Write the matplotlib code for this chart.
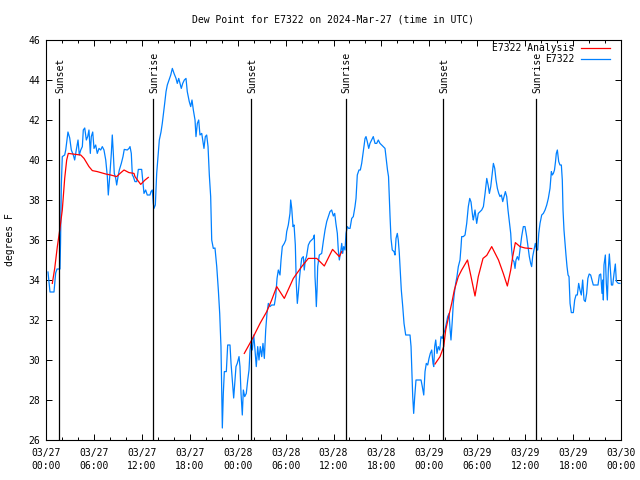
import numpy as np
import matplotlib
matplotlib.use("Agg")
import matplotlib.pyplot as plt
from matplotlib.ticker import MultipleLocator, FixedLocator

plt.rcParams['font.family'] = ['DejaVu Sans Mono']
plt.rcParams['font.size'] = 7

title = "Dew Point for E7322 on 2024-Mar-27 (time in UTC)"
ylabel = "degrees F"

# hours since 03/27 00:00 UTC
obs_hours = [0.25, 0.50, 1.00, 1.21, 1.38, 1.75, 1.82, 1.92, 2.04, 2.34, 2.47, 2.75, 2.97, 3.17, 3.42, 3.59,
             3.79, 4.01, 4.17, 4.35, 4.55, 4.67, 4.85, 5.05, 5.22, 5.38, 5.55, 5.67, 5.85, 6.01, 6.22, 6.42,
             6.64, 6.85, 7.05, 7.26, 7.48, 7.68, 7.80, 7.98, 8.18, 8.30, 8.43, 8.55, 8.73, 8.85, 9.02, 9.18,
             9.43, 9.64, 9.80, 10.18, 10.39, 10.52, 10.68, 10.81, 10.93, 11.14, 11.36, 11.56, 11.98, 12.11,
             12.27, 12.48, 12.68, 13.02, 13.15, 13.31, 13.44, 13.52, 13.69, 13.86, 14.02, 14.19, 14.40, 14.56,
             14.69, 14.86, 15.03, 15.19, 15.40, 15.62, 15.82, 16.03, 16.28, 16.44, 16.62, 16.78, 16.94, 17.12,
             17.32, 17.53, 17.69, 17.94, 18.12, 18.28, 18.45, 18.66, 18.78, 18.95, 19.12, 19.28, 19.50, 19.62,
             19.78, 19.95, 20.12, 20.29, 20.45, 20.62, 20.75, 20.95, 21.16, 21.38, 21.58, 21.75, 21.91, 22.00,
             22.08, 22.20, 22.33, 22.58, 22.75, 23.04, 23.17, 23.33, 23.50, 23.67, 23.79, 23.95, 24.17, 24.29,
             24.42, 24.58, 24.71, 24.88, 25.08, 25.26, 25.42, 25.55, 25.67, 25.83, 26.01, 26.17, 26.33, 26.51,
             26.67, 26.83, 27.01, 27.17, 27.34, 27.51, 27.67, 27.84, 28.05, 28.26, 28.59, 28.76, 28.93, 29.09,
             29.30, 29.43, 29.59, 29.84, 30.02, 30.14, 30.34, 30.55, 30.64, 30.77, 30.93, 31.06, 31.22, 31.34,
             31.47, 31.59, 31.72, 31.84, 32.02, 32.22, 32.34, 32.47, 32.62, 32.85, 33.06, 33.27, 33.47, 33.60,
             33.68, 33.77, 33.85, 33.94, 34.02, 34.22, 34.52, 34.72, 34.94, 35.15, 35.35, 35.56, 35.77, 35.98,
             36.15, 36.31, 36.48, 36.60, 36.73, 36.90, 37.03, 37.15, 37.28, 37.44, 37.57, 37.73, 37.90, 38.07,
             38.28, 38.48, 38.69, 38.82, 38.98, 39.19, 39.36, 39.53, 39.73, 39.95, 40.07, 40.23, 40.41, 40.57,
             40.78, 40.98, 41.20, 41.41, 41.61, 41.82, 42.03, 42.45, 42.61, 42.76, 42.89, 42.99, 43.08, 43.20,
             43.36, 43.58, 43.70, 43.83, 43.99, 44.11, 44.24, 44.37, 44.49, 44.67, 44.83, 45.04, 45.58, 45.71,
             45.79, 45.92, 46.04, 46.17, 46.33, 46.96, 47.12, 47.30, 47.46, 47.62, 47.80, 47.96, 48.12, 48.30,
             48.46, 48.55, 48.67, 48.80, 48.96, 49.12, 49.30, 49.46, 49.62, 49.80, 49.96, 50.13, 50.30, 50.47,
             50.59, 50.71, 50.88, 51.00, 51.13, 51.30, 51.46, 51.63, 51.84, 51.97, 52.05, 52.26, 52.47, 52.68,
             52.88, 53.06, 53.22, 53.43, 53.51, 53.72, 53.93, 54.13, 54.35, 54.56, 54.77, 54.98, 55.19, 55.36,
             55.52, 55.69, 55.85, 56.02, 56.19, 56.35, 56.52, 56.69, 56.85, 57.02, 57.19, 57.35, 57.52, 57.69,
             57.85, 58.02, 58.19, 58.31, 58.44, 58.60, 58.73, 58.85, 59.02, 59.19, 59.35, 59.56, 59.77, 59.98,
             60.19, 60.35, 60.52, 60.69, 60.81, 60.94, 61.11, 61.27, 61.45, 61.57, 61.70, 61.86, 62.07, 62.28,
             62.49, 62.70, 62.90, 63.11, 63.28, 63.40, 63.53, 63.67, 63.80, 63.90, 64.03, 64.20, 64.36, 64.53,
             64.65, 64.74, 64.86, 64.99, 65.11, 65.24, 65.37, 65.49, 65.62, 65.78, 66.03, 66.20, 66.37, 66.53,
             66.70, 66.86, 67.03, 67.20, 67.37, 67.53, 67.70, 67.85, 68.02, 68.20, 68.37, 68.53, 68.87, 69.12,
             69.29, 69.46, 69.62, 69.71, 69.79, 69.87, 70.04, 70.16, 70.29, 70.41, 70.54, 70.66, 70.80, 70.96,
             71.13, 71.29, 71.42, 71.67, 71.87]
obs_vals = [34.4, 33.4, 33.4, 34.35, 34.55, 34.55, 35.85, 38.75, 40.17, 40.25, 40.5, 41.4, 41.1, 40.5, 40.25, 40.0,
            40.5, 41.0, 40.25, 40.5, 40.67, 41.5, 41.6, 41.0, 41.17, 41.5, 40.33, 41.17, 41.4, 40.58, 40.75, 40.33,
            40.58, 40.5, 40.67, 40.5, 40.0, 39.17, 38.25, 39.17, 40.33, 41.25, 40.33, 39.33, 39.08, 38.75, 39.17, 39.5,
            39.83, 40.17, 40.53, 40.5, 40.58, 40.67, 40.33, 39.25, 39.17, 38.92, 38.92, 39.53, 39.53, 39.0,
            38.33, 38.5, 38.25, 38.25, 38.42, 38.5, 37.83, 37.58, 37.75, 39.33, 40.17, 41.0, 41.4, 41.83,
            42.25, 42.83, 43.42, 43.75, 44.0, 44.25, 44.58, 44.33, 44.08, 43.83, 44.08, 43.83, 43.58, 43.83,
            44.0, 44.08, 43.42, 42.92, 42.67, 43.0, 42.5, 42.0, 41.17, 41.83, 42.0, 41.25, 41.33, 41.0,
            40.58, 41.17, 41.25, 40.67, 39.25, 38.17, 36.0, 35.58, 35.6, 34.67, 33.5, 32.33, 30.67, 28.67,
            26.6, 28.3, 29.42, 29.42, 30.75, 30.75, 29.83, 29.0, 28.1, 29.0, 29.67, 29.83, 30.17, 29.67,
            28.33, 27.25, 28.5, 28.17, 28.33, 29.0, 29.5, 30.5, 30.83, 30.5, 31.25, 30.5, 29.67, 30.67,
            30.0, 30.67, 30.17, 30.83, 30.08, 31.5, 32.33, 32.83, 32.67, 32.75, 32.75, 33.17, 34.08, 34.5,
            34.25, 35.0, 35.67, 35.83, 36.0, 36.42, 36.75, 37.33, 38.0, 37.58, 36.67, 36.75, 35.75, 33.83,
            32.83, 33.33, 34.0, 34.5, 35.08, 35.17, 34.5, 35.0, 35.17, 35.75, 35.92, 36.0, 36.08, 36.25,
            34.17, 33.5, 32.67, 33.5, 34.67, 35.25, 35.33, 35.92, 36.5, 36.92, 37.17, 37.42, 37.5, 37.2,
            37.33, 36.8, 36.33, 35.5, 35.0, 35.42, 35.83, 35.33, 35.67, 35.5, 36.33, 36.67, 36.58, 36.58,
            37.08, 37.17, 37.67, 38.08, 39.25, 39.5, 39.5, 39.83, 40.42, 41.08, 41.17, 40.92, 40.58, 40.83,
            41.0, 41.17, 40.83, 40.83, 41.0, 40.83, 40.75, 40.58, 40.0, 39.5, 39.17, 38.08, 37.17, 36.08,
            35.5, 35.42, 35.25, 36.08, 36.33, 36.0, 35.33, 34.33, 33.5, 32.67, 31.83, 31.25, 31.25, 30.67,
            29.75, 28.17, 27.33, 28.17, 29.0, 29.0, 28.67, 28.25, 29.42, 29.83, 29.75, 30.08, 30.33, 30.5,
            29.83, 29.67, 30.67, 31.0, 30.33, 30.67, 30.5, 31.17, 31.08, 31.33, 31.5, 31.83, 32.17, 32.33,
            31.58, 31.0, 32.0, 32.83, 33.33, 33.83, 34.17, 34.67, 35.0, 35.67, 36.17, 36.17, 36.25, 36.83,
            37.67, 38.08, 37.9, 37.17, 37.0, 37.5, 36.83, 37.33, 37.42, 37.5, 37.67, 38.33, 39.08, 38.75,
            38.33, 38.67, 39.25, 39.83, 39.58, 39.0, 38.58, 38.33, 38.17, 38.25, 37.92, 38.17, 38.42, 38.17,
            37.5, 36.92, 36.33, 35.5, 35.0, 34.92, 34.58, 35.0, 35.17, 35.0, 35.5, 36.17, 36.67, 36.67,
            36.17, 35.67, 35.17, 34.83, 34.67, 35.17, 35.5, 35.83, 35.5, 35.5, 36.33, 36.83, 37.25, 37.33,
            37.5, 37.75, 38.08, 38.58, 39.42, 39.25, 39.33, 39.5, 39.92, 40.33, 40.5, 39.92, 39.75, 39.75,
            39.0, 37.5, 36.5, 35.83, 35.25, 34.67, 34.25, 34.17, 32.83, 32.37, 32.37, 33.0, 33.25, 33.25,
            33.83, 33.5, 33.25, 34.0, 33.0, 32.92, 33.33, 34.08, 34.3, 34.25, 34.0, 33.75, 33.75, 33.75,
            34.25, 34.3, 33.33, 34.0, 33.0, 34.75, 35.25, 33.83, 33.0, 34.5, 35.3, 34.58, 33.75, 33.75,
            34.33, 34.8, 33.93, 33.83, 33.83]

ana_hours = [0.79, 1.09, 1.42, 1.72, 2.04, 2.34, 2.59, 2.79, 3.72, 4.35, 4.76, 5.38, 5.80, 6.42, 7.48, 8.10,
             8.85, 9.27, 9.77, 10.39, 11.02, 11.14, 11.86, 12.40, 12.81, np.nan,
             24.83, 25.76, 26.80, 27.64, 28.26, 28.89, 29.84, 30.97, 32.02, 32.85, 33.90, 34.85, 35.88, 36.73,
             37.03, np.nan,
             48.71, 49.34, 49.80, 50.05, 50.38, 50.80, 51.13, 51.63, 52.05, 52.78, 53.22, 53.72, 54.13, 54.72,
             55.19, 55.81, 56.66, 57.26, 57.77, 58.19, 58.44, 58.77, 59.35, 59.98, 60.82]
ana_vals = [33.83, 34.58, 35.67, 36.5, 37.5, 39.08, 40.0, 40.33, 40.28, 40.25, 40.08, 39.67, 39.47, 39.42, 39.3, 39.25,
            39.17, 39.33, 39.5, 39.37, 39.33, 39.17, 38.78, 39.0, 39.13, np.nan,
            30.33, 31.0, 31.83, 32.42, 33.0, 33.67, 33.08, 34.08, 34.67, 35.08, 35.08, 34.7, 35.53, 35.17,
            35.42, np.nan,
            29.8, 30.17, 30.67, 31.5, 32.1, 32.83, 33.5, 34.17, 34.5, 35.0, 34.17, 33.2, 34.17, 35.08,
            35.23, 35.67, 35.0, 34.33, 33.7, 34.5, 35.17, 35.87, 35.67, 35.6, 35.57]

sun_hours = [1.67, 13.44, 25.73, 37.53, 49.75, 61.40]
sun_labels = ["Sunset", "Sunrise", "Sunset", "Sunrise", "Sunset", "Sunrise"]

tick_hours = [0, 6, 12, 18, 24, 30, 36, 42, 48, 54, 60, 66, 72]
tick_labels = ["03/27\n00:00", "03/27\n06:00", "03/27\n12:00", "03/27\n18:00",
               "03/28\n00:00", "03/28\n06:00", "03/28\n12:00", "03/28\n18:00",
               "03/29\n00:00", "03/29\n06:00", "03/29\n12:00", "03/29\n18:00",
               "03/30\n00:00"]
y_ticks = [26, 28, 30, 32, 34, 36, 38, 40, 42, 44, 46]

fig = plt.figure(figsize=(6.4, 4.8), dpi=100)
ax = fig.add_axes([46/640, 40/480, 575/640, 400/480])

ax.plot(ana_hours, ana_vals, color='#ff0000', lw=0.9, label='E7322 Analysis', zorder=3)
ax.plot(obs_hours, obs_vals, color='#0080ff', lw=0.9, label='E7322', zorder=2)

for h, lab in zip(sun_hours, sun_labels):
    ax.plot([h, h], [26, 43.05], color='black', lw=0.9, zorder=4)
    ax.text(h + 0.1, 43.35, lab, rotation=90, ha='center', va='bottom', fontsize=7)

ax.set_xlim(0, 72)
ax.set_ylim(26, 46)
ax.xaxis.set_major_locator(FixedLocator(tick_hours))
ax.set_xticklabels(tick_labels, linespacing=1.3)
ax.xaxis.set_minor_locator(MultipleLocator(2))
ax.set_yticks(y_ticks)
ax.tick_params(which='both', direction='in', top=True, right=True, color='black', width=0.7)
ax.tick_params(which='major', length=4)
ax.tick_params(which='minor', length=2.2)
ax.tick_params(axis='x', pad=6)
ax.tick_params(axis='y', pad=4)
for s in ax.spines.values():
    s.set_linewidth(0.8)

fig.text(333/640, 1 - 20/480, title, ha='center', va='center', fontsize=7)
fig.text(10/640, 0.5, ylabel, rotation=90, ha='center', va='center', fontsize=7)

leg = ax.legend(loc='upper right', bbox_to_anchor=(610/640, 1 - 43/480), bbox_transform=fig.transFigure,
                frameon=False, markerfirst=False, handlelength=3.0, handletextpad=0.7,
                labelspacing=0.1, borderpad=0, borderaxespad=0, fontsize=7)

fig.savefig('out.png', dpi=100)
